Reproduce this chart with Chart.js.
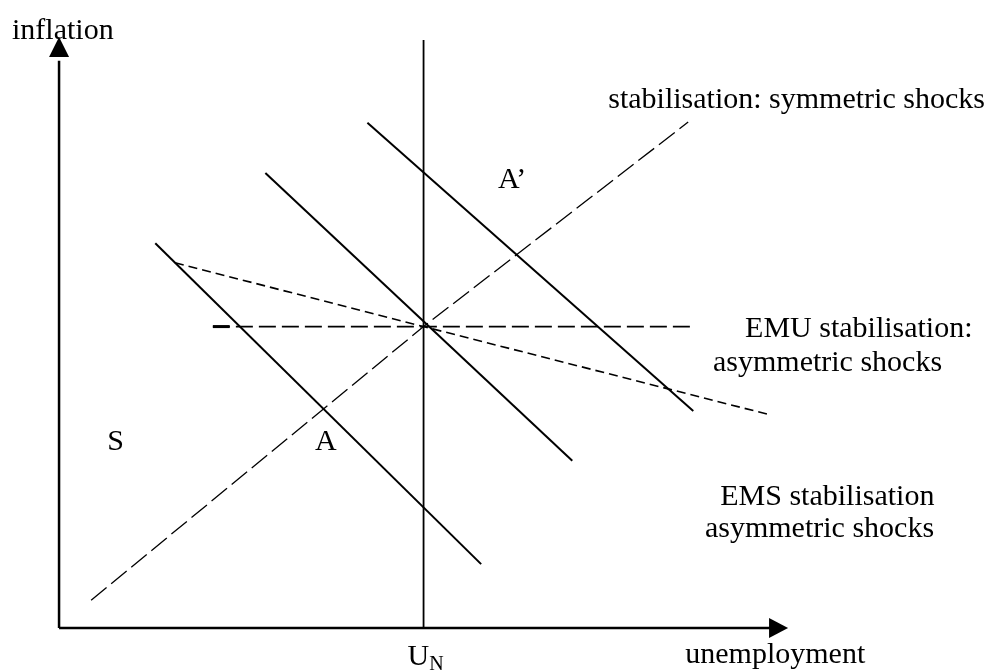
<!DOCTYPE html>
<html>
<head>
<meta charset="utf-8">
<script src="https://cdn.jsdelivr.net/npm/chart.js@4.4.0/dist/chart.umd.min.js"></script>
<style>
  html, body { margin: 0; padding: 0; background: #fff; }
  canvas { display: block; }
</style>
</head>
<body>
<canvas id="chart" width="990" height="670"></canvas>
<script>
// Diagram data (unemployment on x, inflation on y, both 0..10 along the axes)
const naturalRate = 5.0;
const inflationTop = 9.95;

// three short-run curves (solid)
const curve1X = [1.32, 5.79];
const curve1Y = [6.51, 1.08];
const curve2X = [2.83, 7.04];
const curve2Y = [7.70, 2.83];
const curve3X = [4.23, 8.70];
const curve3Y = [8.55, 3.67];

// stabilisation lines (dashed)
const symX = [0.44, 5.0, 8.63];
const symY = [0.47, 5.1, 8.56];
const emuX = [2.11, 8.66];
const emuY = [5.1, 5.1];
const emuCapX = [2.11, 2.34];
const emsX = [1.59, 5.0, 9.71];
const emsY = [6.18, 5.1, 3.62];

const xAxisX = [0, 9.75];
const xAxisY = [0, 0];
const yAxisX = [0, 0];
const yAxisY = [0, 9.6];

function pts(xs, ys) { return xs.map((x, i) => ({ x: x, y: ys[i] })); }

function line(xs, ys, width, dash) {
    return {
        data: pts(xs, ys),
        showLine: true,
        borderColor: "#000",
        borderWidth: width,
        borderDash: dash || [],
        pointRadius: 0,
        fill: false,
        tension: 0
    };
}

// text labels: [text, x, y, align]
const labels = [
    ["inflation", -0.645, 9.97, "left"],
    ["stabilisation: symmetric shocks", 12.70, 8.80, "right"],
    ["A\u2019", 6.02, 7.445, "left"],
    ["EMU stabilisation:", 9.41, 4.92, "left"],
    ["asymmetric shocks", 8.97, 4.35, "left"],
    ["S", 0.66, 3.01, "left"],
    ["A", 3.51, 3.01, "left"],
    ["EMS stabilisation", 9.07, 2.08, "left"],
    ["asymmetric shocks", 8.86, 1.54, "left"],
    ["unemployment", 8.59, -0.59, "left"]
];

const FONT = '30px "Liberation Serif", "Times New Roman", serif';

const decor = {
    id: "decor",
    afterDatasetsDraw(chart) {
        const ctx = chart.ctx;
        const sx = chart.scales.x, sy = chart.scales.y;
        ctx.save();
        ctx.fillStyle = "#000";
        // arrow heads
        const ox = sx.getPixelForValue(0);
        const tipY = sy.getPixelForValue(10);
        ctx.beginPath();
        ctx.moveTo(ox, tipY);
        ctx.lineTo(ox - 10, tipY + 20);
        ctx.lineTo(ox + 10, tipY + 20);
        ctx.closePath();
        ctx.fill();
        const oy = sy.getPixelForValue(0);
        const tipX = sx.getPixelForValue(10);
        ctx.beginPath();
        ctx.moveTo(tipX, oy);
        ctx.lineTo(tipX - 19, oy - 10);
        ctx.lineTo(tipX - 19, oy + 10);
        ctx.closePath();
        ctx.fill();

        ctx.font = FONT;
        ctx.textBaseline = "alphabetic";
        labels.forEach(l => {
            ctx.textAlign = l[3];
            ctx.fillText(l[0], sx.getPixelForValue(l[1]), sy.getPixelForValue(l[2]));
        });
        // U with subscript N
        ctx.textAlign = "left";
        const ux = sx.getPixelForValue(4.78), uy = sy.getPixelForValue(-0.626);
        ctx.fillText("U", ux, uy);
        const uw = ctx.measureText("U").width;
        ctx.font = '20px "Liberation Serif", "Times New Roman", serif';
        ctx.fillText("N", ux + uw, uy + 5);
        ctx.restore();
    }
};

new Chart(document.getElementById("chart").getContext("2d"), {
    type: "scatter",
    data: {
        datasets: [
            line(xAxisX, xAxisY, 2.5),
            line(yAxisX, yAxisY, 2.5),
            line([naturalRate, naturalRate], [0, inflationTop], 1.8),
            line(curve1X, curve1Y, 2),
            line(curve2X, curve2Y, 2),
            line(curve3X, curve3Y, 2),
            line(symX, symY, 1.3, [20, 6]),
            line(emuX, emuY, 1.6, [17, 6]),
            line(emuCapX, emuY, 3),
            line(emsX, emsY, 1.6, [9, 5])
        ]
    },
    options: {
        responsive: false,
        animation: false,
        devicePixelRatio: 1,
        layout: { padding: 0 },
        plugins: { legend: { display: false }, tooltip: { enabled: false } },
        scales: {
            x: { type: "linear", min: -0.81, max: 12.77, display: false },
            y: { type: "linear", min: -0.711, max: 10.626, display: false }
        }
    },
    plugins: [decor]
});
</script>
</body>
</html>
